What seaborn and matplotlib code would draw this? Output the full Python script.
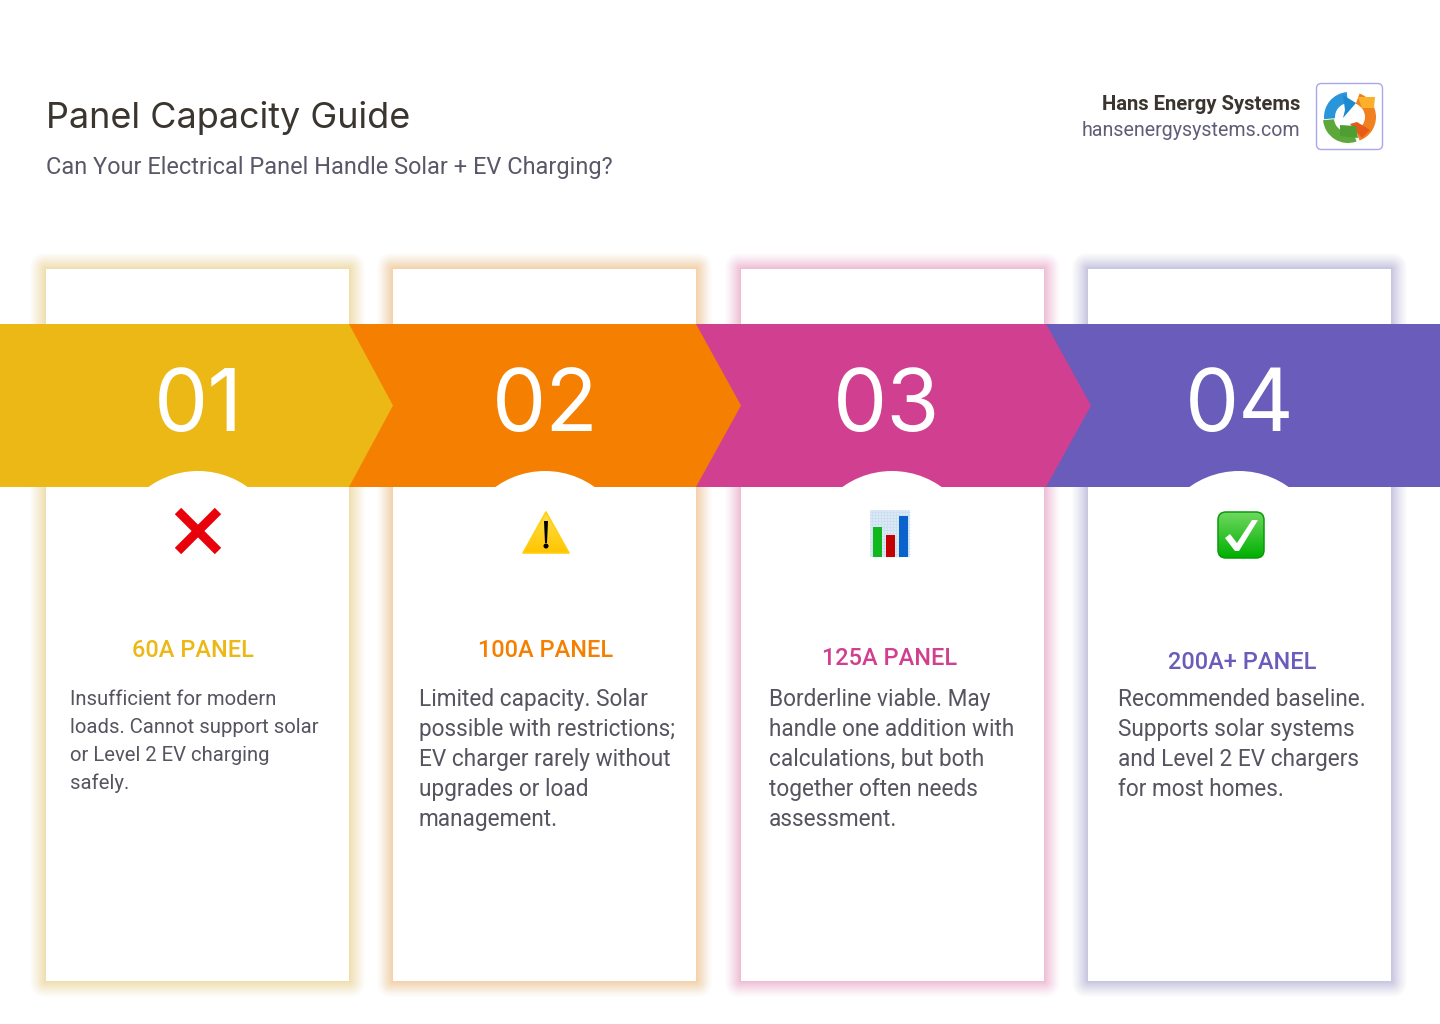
import numpy as np
import matplotlib
matplotlib.use("Agg")
import matplotlib.pyplot as plt
import seaborn as sns
from matplotlib.patches import Polygon, Rectangle, FancyBboxPatch, Circle, Wedge

# ---- content ----
title = "Panel Capacity Guide"
subtitle = "Can Your Electrical Panel Handle Solar + EV Charging?"
brand = "Hans Energy Systems"
site = "hansenergysystems.com"
numbers = ["01", "02", "03", "04"]
headings = ["60A PANEL", "100A PANEL", "125A PANEL", "200A+ PANEL"]
bodies = [
    ["Insufficient for modern", "loads. Cannot support solar", "or Level 2 EV charging", "safely."],
    ["Limited capacity. Solar", "possible with restrictions;", "EV charger rarely without", "upgrades or load", "management."],
    ["Borderline viable. May", "handle one addition with", "calculations, but both", "together often needs", "assessment."],
    ["Recommended baseline.", "Supports solar systems", "and Level 2 EV chargers", "for most homes."],
]
colors = ["#ECB816", "#F57F00", "#D14090", "#6A5CBA"]

# ---- layout ----
card_x = [46, 393, 741, 1088]
card_w = 303
card_top, card_bot = 269, 981
band_top, band_bot = 324, 487
seg_left = [-60, 349, 696, 1046]
seg_right = [349, 696, 1046, 1500]
seg_tip = [393, 741, 1091, 1544]
num_x = [198, 545, 887, 1240]
circle_x = [198, 545, 892, 1239]
icon_x = [198, 546, 890, 1241]
head_x = [193, 546, 890, 1242]
head_y = [657, 657, 665, 669]
body_x = [70, 419, 769, 1118]
body_y0 = [705, 706, 706, 706]
body_lh = [28, 30, 30, 30]
body_px = [20.3, 22.6, 22.6, 22.6]

sns.set_theme(style="white")
plt.rcParams["font.family"] = ["Roboto", "DejaVu Sans"]
fig = plt.figure(figsize=(14.4, 10.24), dpi=100, facecolor="white")
ax = fig.add_axes([0, 0, 1, 1])
ax.set_axis_off()
PX = 0.72


def rgrad(x0, y0, x1, y1, top, bot, patch, z):
    t = np.linspace(0, 1, 64)[:, None, None]
    a = np.array(matplotlib.colors.to_rgb(top))[None, None, :]
    b = np.array(matplotlib.colors.to_rgb(bot))[None, None, :]
    im = ax.imshow(a * (1 - t) + b * t, extent=(x0, x1, y1, y0), aspect="auto", zorder=z)
    patch.set_transform(ax.transData)
    im.set_clip_path(patch)


# card glows
for x, c in zip(card_x, colors):
    for s in range(16, 0, -1):
        ax.add_patch(FancyBboxPatch((x, card_top), card_w, card_bot - card_top,
                                    boxstyle=f"round,pad={s},rounding_size={s}",
                                    fc=c, ec="none", alpha=0.014 + 0.0012 * (16 - s), zorder=1))
    ax.add_patch(Rectangle((x, card_top), card_w, card_bot - card_top, fc="white", ec="none", zorder=2))

# chevrons, drawn from the last to the first so each tip overlaps the next
mid = (band_top + band_bot) / 2
for i in range(3, -1, -1):
    ax.add_patch(Polygon([(seg_left[i], band_top), (seg_right[i], band_top), (seg_tip[i], mid),
                          (seg_right[i], band_bot), (seg_left[i], band_bot)],
                         closed=True, fc=colors[i], ec="none", zorder=3))
for x in circle_x:
    ax.add_patch(Circle((x, 556), 85, fc="white", ec="none", zorder=4))
ax.add_patch(Rectangle((0, band_bot), 1440, 100, fc="none", ec="none"))
for x, n in zip(num_x, numbers):
    ax.text(x, 431, n, color="white", fontsize=86 * PX, family="Inter", ha="center", va="baseline",
            fontweight="normal", zorder=5)

# icon 1: cross
cx = icon_x[0]; cy = 531
for sgn in (1, -1):
    ax.plot([cx - 20, cx + 20], [cy - 20 * sgn, cy + 20 * sgn], color="#E8000B", lw=9 * PX * 1.0,
            solid_capstyle="butt", zorder=5)
# icon 2: warning triangle
cx = icon_x[1]
tri = Polygon([(cx - 23, 553), (cx, 512), (cx + 23, 553)], closed=True, joinstyle="round")
rgrad(cx - 24, 511, cx + 24, 554, "#FFE04A", "#FFC400", tri, 5)
ax.add_patch(Polygon([(cx - 23, 553), (cx, 512), (cx + 23, 553)], closed=True, fc="none", ec="#FFCF10", lw=1.2, joinstyle="round", zorder=5))
ax.add_patch(Polygon([(cx - 2, 521), (cx + 2, 521), (cx + 1, 543), (cx - 1, 543)], closed=True, fc="black", ec="none", zorder=6))
ax.add_patch(Circle((cx, 546), 2.5, fc="black", ec="none", zorder=6))
# icon 3: bar chart
cx = icon_x[2]
ax.add_patch(Rectangle((870, 510), 40, 47, fc="#DCE8F4", ec="none", zorder=5))
for gx in range(872, 910, 3):
    ax.plot([gx, gx], [510, 557], color="#C4DCF2", lw=0.4, zorder=5)
for gy in range(512, 557, 3):
    ax.plot([870, 910], [gy, gy], color="#C4DCF2", lw=0.4, zorder=5)
for bx, by, bc in [(873, 526.5, "#10B81E"), (886, 535, "#C40000"), (899, 516, "#0A62CC")]:
    ax.add_patch(Rectangle((bx, by), 8.5, 556.5 - by, fc=bc, ec="none", zorder=6))
# icon 4: check box
cx = icon_x[3]
box = FancyBboxPatch((cx - 23, 512), 46, 46, boxstyle="round,pad=0,rounding_size=8")
rgrad(cx - 23, 512, cx + 23, 558, "#6FD860", "#00B000", box, 5)
ax.add_patch(FancyBboxPatch((cx - 23, 512), 46, 46, boxstyle="round,pad=0,rounding_size=8",
                            fc="none", ec="#0A9A0A", lw=1.1, zorder=5))
ax.add_patch(Polygon([(cx - 16, 538), (cx - 11, 534), (cx - 4, 543), (cx + 11, 520), (cx + 17, 520), (cx - 2, 551), (cx - 6, 551)],
                     closed=True, fc="white", ec="none", zorder=6))

# cards text
for i in range(4):
    ax.text(head_x[i], head_y[i], headings[i], color=colors[i], fontsize=23.5 * PX, fontweight="medium",
            ha="center", va="baseline", zorder=5)
    for j, line in enumerate(bodies[i]):
        ax.text(body_x[i], body_y0[i] + j * body_lh[i], line, color="#55545F", fontsize=body_px[i] * PX,
                ha="left", va="baseline", zorder=5)

# header
ax.text(46, 128, title, color="#3A352F", fontsize=36 * PX, family="Inter", ha="left", va="baseline")
ax.text(46, 174, subtitle, color="#5A5868", fontsize=23.5 * PX, ha="left", va="baseline")
ax.text(1300, 110, brand, color="#3A352F", fontsize=20.3 * PX, fontweight="bold", ha="right", va="baseline")
ax.text(1300, 136, site, color="#5F5D78", fontsize=19.6 * PX, ha="right", va="baseline")

# logo
ax.add_patch(FancyBboxPatch((1316.5, 83.5), 66, 66, boxstyle="round,pad=0,rounding_size=5",
                            fc="white", ec="#A9A6EE", lw=1, zorder=2))
lx, ly = 1349, 115
ax.add_patch(Wedge((lx, ly + 2), 25, 175, 265, width=11, fc="#2A95D8", ec="none", zorder=3))
ax.add_patch(Polygon([(1343, 95), (1356, 103), (1343, 118), (1345, 110)], closed=True, fc="#1C8AD0", ec="none", zorder=3))
ax.add_patch(Wedge((lx + 2, ly + 2), 25, -70, 70, width=11, fc="#F08020", ec="none", zorder=3))
ax.add_patch(Polygon([(1358, 97), (1375, 97), (1374, 108), (1362, 108)], closed=True, fc="#FBB02A", ec="none", zorder=3))
ax.add_patch(Polygon([(1357, 122), (1370, 130), (1362, 138), (1350, 124)], closed=True, fc="#E85A18", ec="none", zorder=3))
ax.add_patch(Wedge((lx, ly + 3), 25, 85, 185, width=11, fc="#6FB53E", ec="none", zorder=3, alpha=0))
ax.add_patch(Wedge((lx - 1, ly + 3), 25, 70, 175, width=11, fc="#5CA83A", ec="none", zorder=3))
ax.add_patch(Polygon([(1356, 126), (1358, 138), (1340, 136), (1340, 125)], closed=True, fc="#4E9E34", ec="none", zorder=3))

ax.set_xlim(0, 1440)
ax.set_ylim(1024, 0)
ax.set_aspect("auto")
fig.savefig("out.png", dpi=100, facecolor="white")
